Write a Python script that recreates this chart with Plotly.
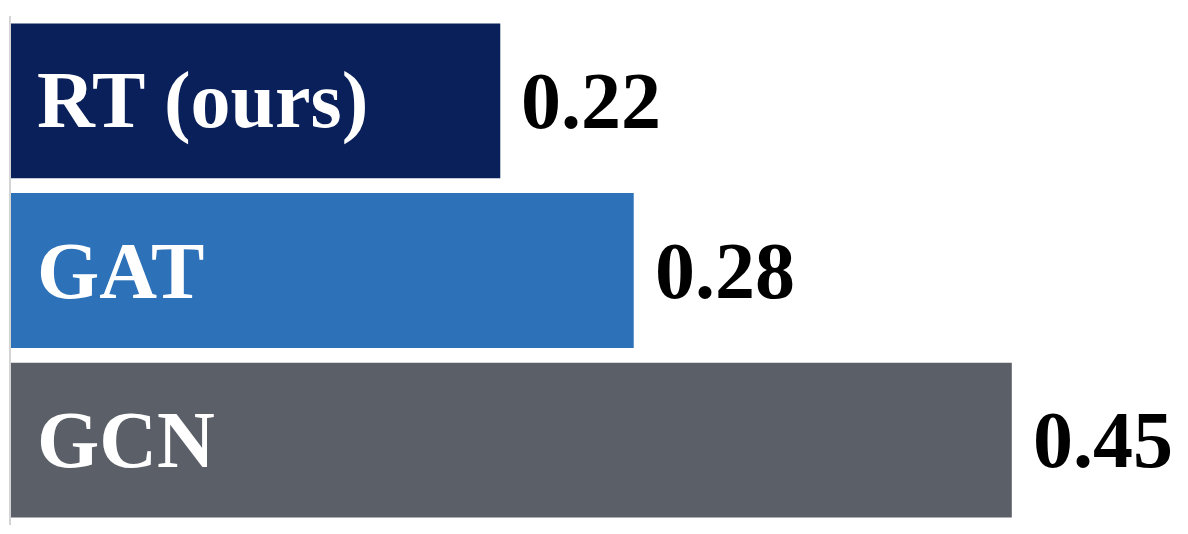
import plotly.graph_objects as go

models = ["RT (ours)", "GAT", "GCN"]
scores = [0.22, 0.28, 0.45]
bar_colors = ["#0a205b", "#2d71b9", "#5b5f68"]

FONT = "Liberation Serif, Times New Roman, serif"

fig = go.Figure(go.Bar(
    x=scores,
    y=models,
    orientation="h",
    marker=dict(color=bar_colors, line=dict(width=0)),
    hoverinfo="skip",
))

# labels inside the bars and values past the bar end
for name, val in zip(models, scores):
    fig.add_annotation(
        x=0, y=name, text=f"<b>{name}</b>", showarrow=False,
        xanchor="left", yanchor="middle", xshift=24,
        font=dict(family=FONT, size=80, color="white"),
    )
    fig.add_annotation(
        x=val, y=name, text=f"<b>{val:.2f}</b>", showarrow=False,
        xanchor="left", yanchor="middle", xshift=19,
        font=dict(family=FONT, size=80, color="black"),
    )

# page body adds an 8px margin, so the figure is sized to fit inside it
fig.update_layout(
    width=1172, height=518,
    margin=dict(l=3, r=56.5, t=8, b=1),
    paper_bgcolor="white",
    plot_bgcolor="white",
    bargap=0.087,
    showlegend=False,
    xaxis=dict(range=[0, 0.5], visible=False, fixedrange=True),
    yaxis=dict(
        autorange="reversed", showticklabels=False, ticks="",
        showline=True, linecolor="#d4d4d4", linewidth=2,
        showgrid=False, zeroline=False, fixedrange=True,
    ),
)

fig.write_html("out.html")
